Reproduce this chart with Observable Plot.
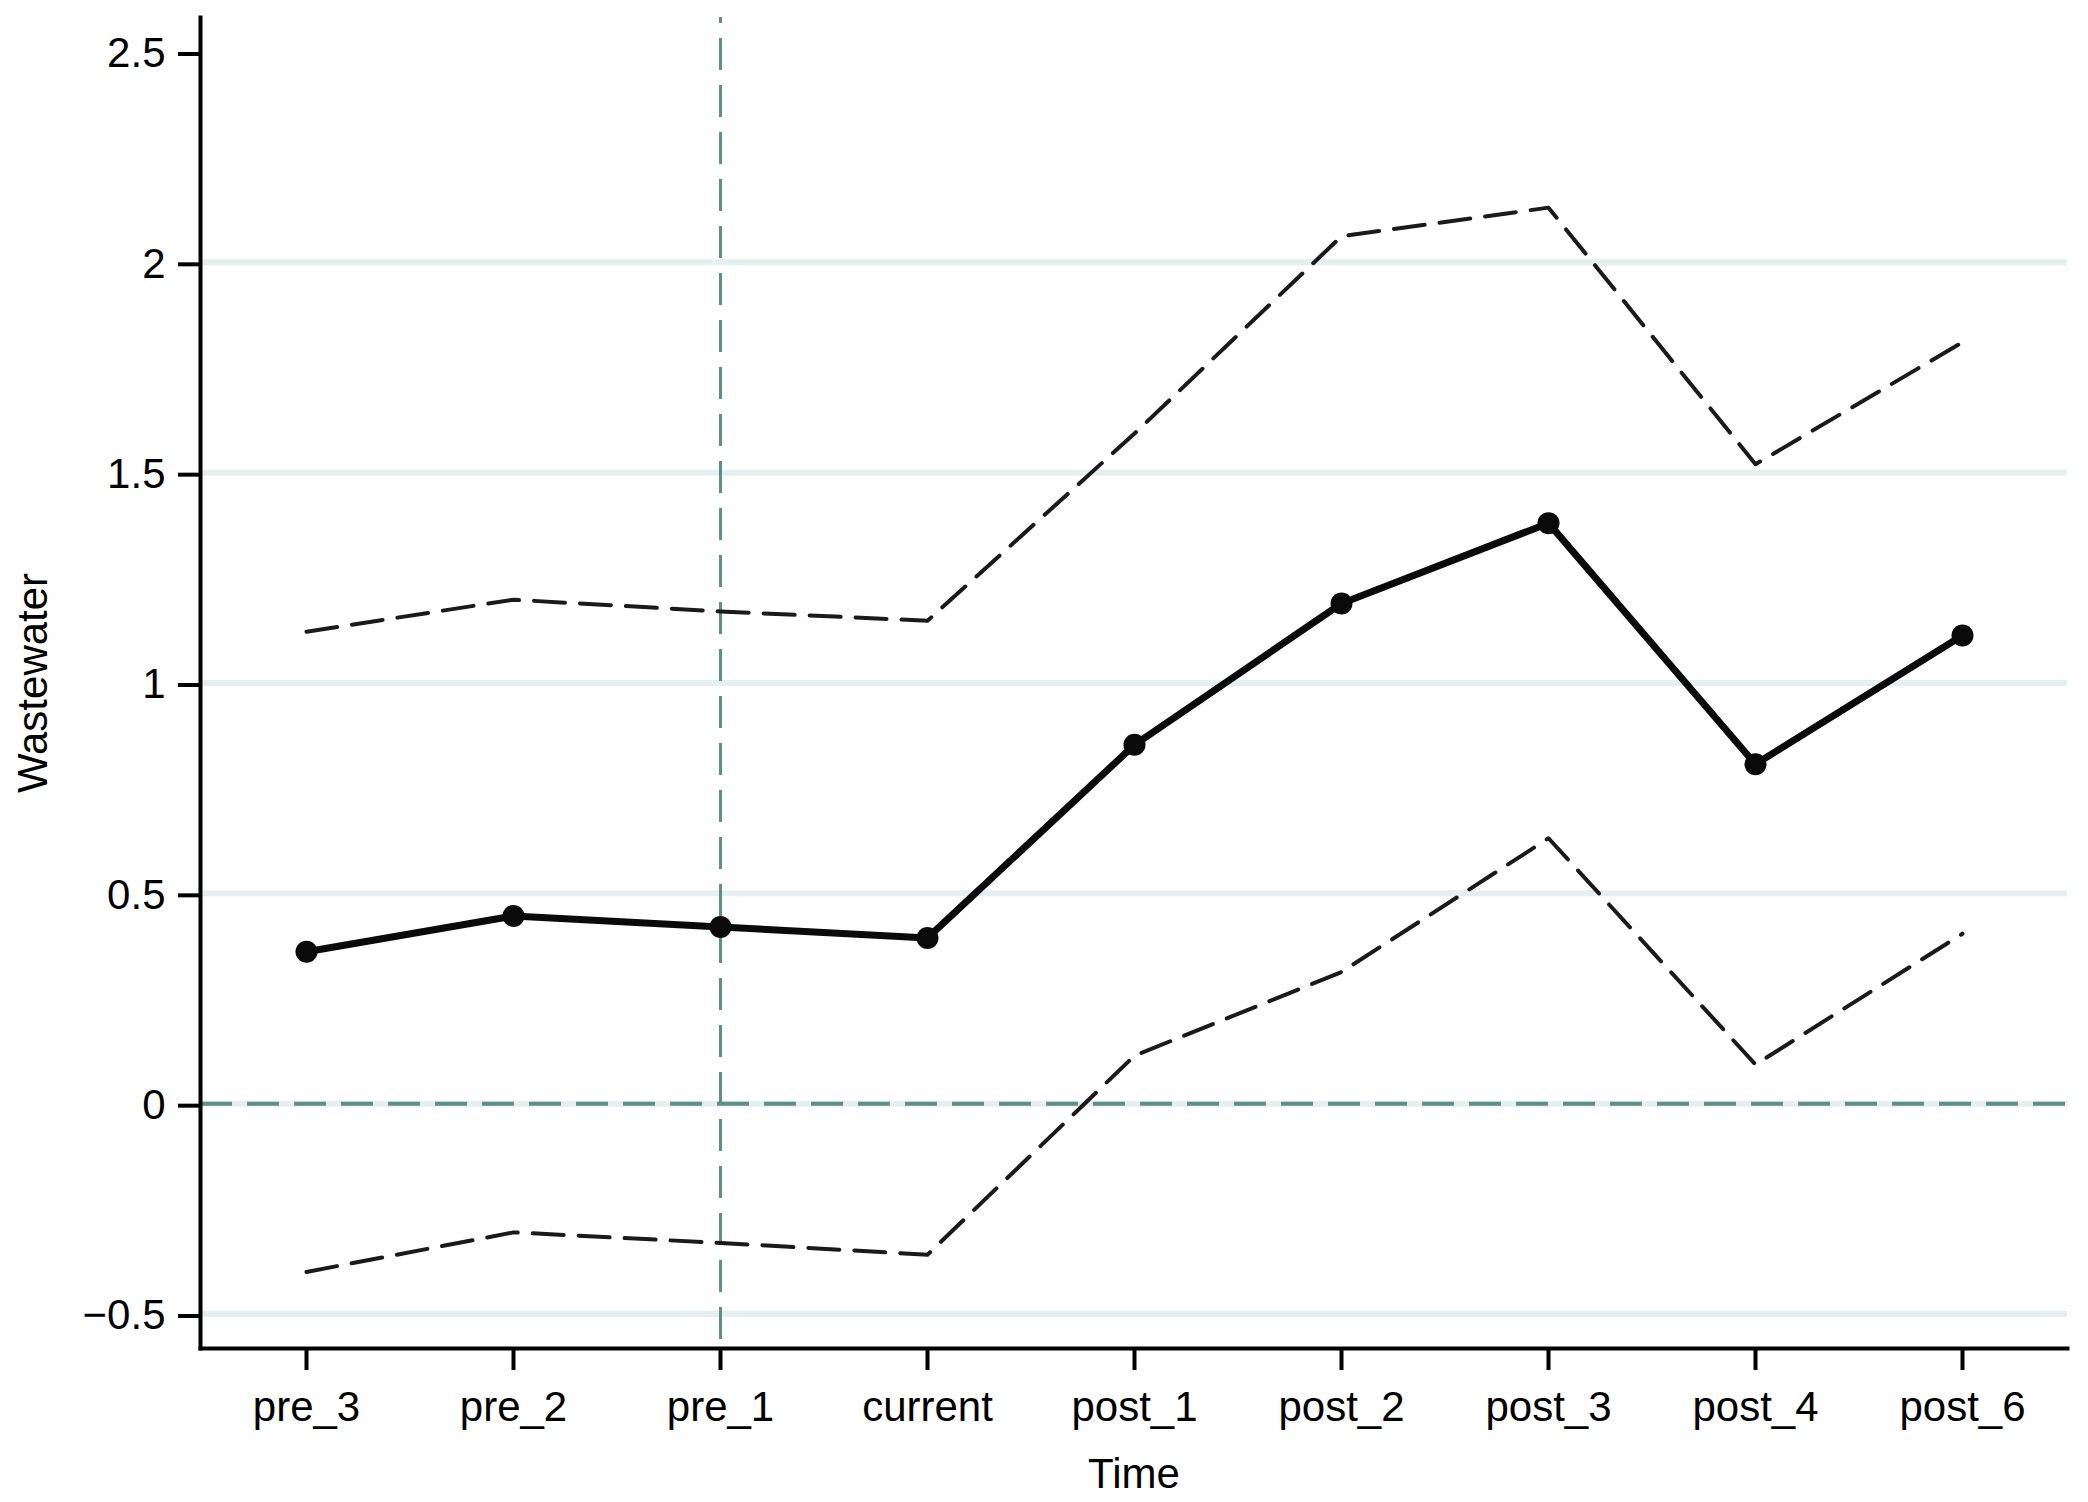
<!DOCTYPE html>
<html>
<head>
<meta charset="utf-8">
<script src="https://cdn.jsdelivr.net/npm/d3@7"></script>
<script src="https://cdn.jsdelivr.net/npm/@observablehq/plot@0.6"></script>
<style>
  html, body { margin: 0; padding: 0; background: #ffffff; }
  #chart { width: 2088px; height: 1502px; }
</style>
</head>
<body>
<div id="chart"></div>
<script>
// ---- data ----
const periods = ["pre_3", "pre_2", "pre_1", "current", "post_1", "post_2", "post_3", "post_4", "post_6"];
const coef    = [0.361, 0.446, 0.420, 0.394, 0.853, 1.189, 1.380, 0.807, 1.113];
const upper   = [1.122, 1.198, 1.170, 1.148, 1.593, 2.062, 2.130, 1.520, 1.810];
const lower   = [-0.400, -0.306, -0.331, -0.359, 0.114, 0.313, 0.631, 0.093, 0.404];

const yTicks      = [-0.5, 0, 0.5, 1, 1.5, 2, 2.5];
const yTickLabels = ["\u22120.5", "0", "0.5", "1", "1.5", "2", "2.5"];
const gridValues  = [-0.5, 0, 0.5, 1, 1.5, 2];
const eventPeriod = ["pre_1"];
const zeroLine    = [0];
const xTitle = "Time";
const yTitle = "Wastewater";
const yDomain = [-0.582, 2.582];

const rows = periods.map((t, i) => ({t, coef: coef[i], upper: upper[i], lower: lower[i]}));

const font = "'Liberation Sans', Arial, Helvetica, sans-serif";
const teal = "#5e8f84";
const grid = "#e4efef";

const chart = Plot.plot({
  width: 2088,
  height: 1502,
  marginTop: 17,
  marginBottom: 154,
  marginLeft: 200,
  marginRight: 21,
  style: {background: "#ffffff", fontFamily: font, color: "#000000"},
  x: {type: "point", domain: periods, padding: 0.5, label: null},
  y: {domain: yDomain, label: null},
  marks: [
    Plot.ruleY(gridValues, {stroke: grid, strokeWidth: 6}),
    Plot.ruleY(zeroLine, {stroke: teal, strokeWidth: 4, strokeDasharray: "32,15"}),
    Plot.ruleX(eventPeriod, {x: d => d, y1: yDomain[1], y2: yDomain[0], stroke: teal, strokeWidth: 3, strokeDasharray: "32,15", strokeDashoffset: 26}),
    Plot.line(rows, {x: "t", y: "upper", stroke: "#1a1a1a", strokeWidth: 4, strokeDasharray: "31,15"}),
    Plot.line(rows, {x: "t", y: "lower", stroke: "#1a1a1a", strokeWidth: 4, strokeDasharray: "31,15"}),
    Plot.line(rows, {x: "t", y: "coef", stroke: "#0a0a0a", strokeWidth: 7}),
    Plot.dot(rows, {x: "t", y: "coef", r: 11, fill: "#0a0a0a", stroke: null}),
    Plot.frame({anchor: "left", stroke: "#000000", strokeWidth: 4, strokeLinecap: "square"}),
    Plot.frame({anchor: "bottom", stroke: "#000000", strokeWidth: 4, strokeLinecap: "square"}),
    Plot.axisY({
      ticks: yTicks,
      tickFormat: d => yTickLabels[yTicks.indexOf(d)],
      tickSize: 22,
      tickPadding: 13,
      strokeWidth: 4,
      fontSize: 42,
      fill: "#000000",
      label: null,
      dy: 2
    }),
    Plot.axisX({
      tickSize: 22,
      tickPadding: 21,
      strokeWidth: 4,
      fontSize: 42,
      fill: "#000000",
      label: null
    }),
    Plot.text([xTitle], {frameAnchor: "bottom", text: d => d, dy: 139, fontSize: 42, fill: "#000000"}),
    Plot.text([yTitle], {frameAnchor: "left", text: d => d, rotate: -90, dx: -167, textAnchor: "middle", lineAnchor: "middle", fontSize: 42, fill: "#000000"})
  ]
});

document.getElementById("chart").appendChild(chart);
</script>
</body>
</html>
